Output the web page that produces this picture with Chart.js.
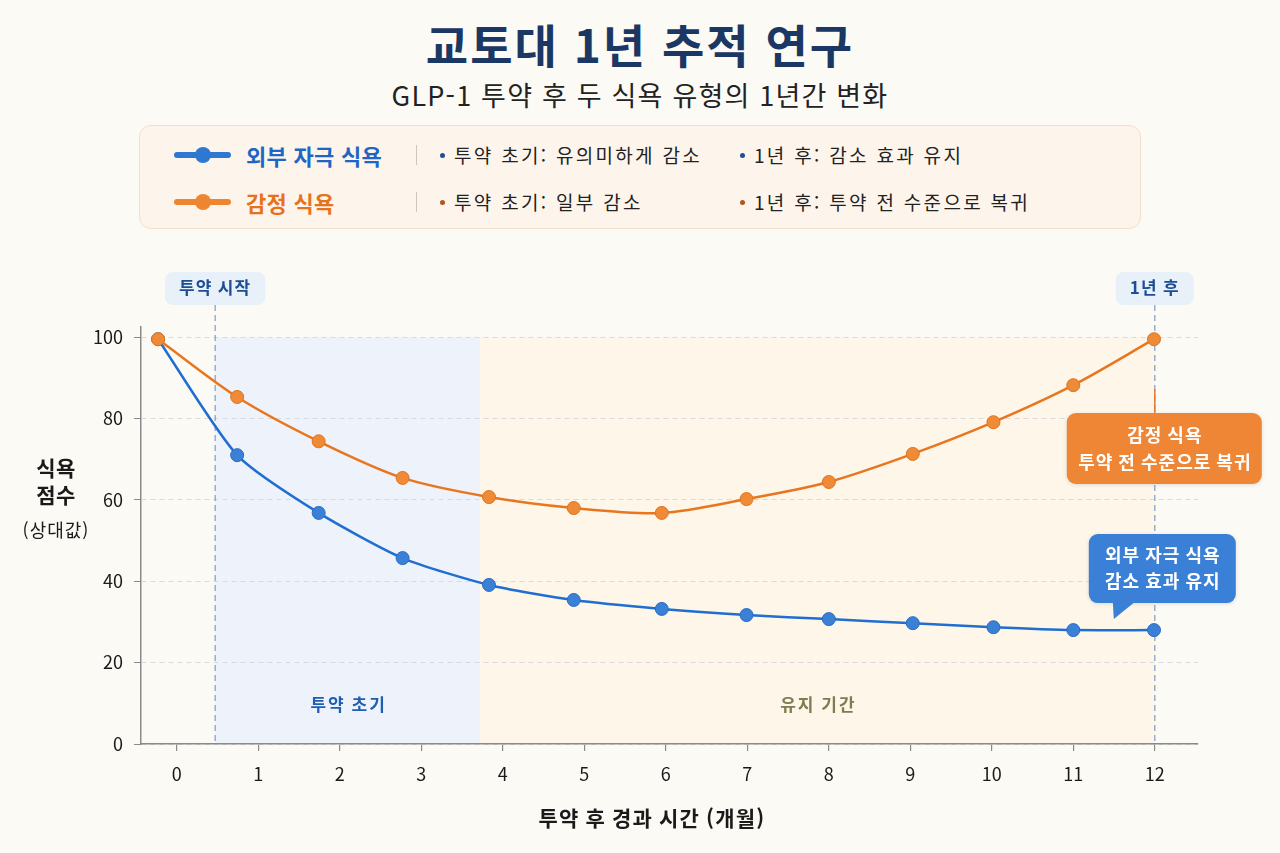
<!DOCTYPE html>
<html lang="ko">
<head>
<meta charset="utf-8">
<script src="https://cdn.jsdelivr.net/npm/chart.js@4.4.1/dist/chart.umd.min.js"></script>
<style>
  html, body { margin: 0; padding: 0; }
  body { width: 1280px; height: 853px; background: #fcfaf5; position: relative; overflow: hidden;
         font-family: "Noto Sans CJK KR", "Noto Sans", sans-serif; color: #222; }
  .title { position: absolute; left: 0; width: 1280px; top: 10px; text-align: center;
           font-size: 46px; font-weight: 700; color: #1b3764; line-height: 66px; letter-spacing: 2px; }
  .subtitle { position: absolute; left: 0; width: 1280px; top: 76px; text-align: center;
              font-size: 27px; color: #222; line-height: 38px; letter-spacing: 1.2px; }
  .legend { position: absolute; left: 139px; top: 125px; width: 1000px; height: 102px;
            background: #fdf5ec; border: 1.5px solid #f2dfcc; border-radius: 12px; }
  .row { position: absolute; left: 0; height: 30px; line-height: 30px; width: 100%; }
  .mark { position: absolute; left: 34px; top: 12px; width: 57px; height: 6px; border-radius: 3px; }
  .mark::after { content: ''; position: absolute; left: 21px; top: -5px; width: 16px; height: 16px; border-radius: 50%; background: inherit; }
  .name { position: absolute; left: 106px; font-size: 22px; font-weight: 700; letter-spacing: 0.3px; }
  .sep { position: absolute; left: 276px; top: 5px; width: 1px; height: 20px; background: #cfc7bd; }
  .note { position: absolute; font-size: 19px; color: #222; letter-spacing: 2.3px; }
  .note::before { content: ''; display: inline-block; width: 5px; height: 5px; border-radius: 50%;
                  background: var(--dot); margin-right: 9px; vertical-align: middle; position: relative; top: -2px; }
  #wrap { position: absolute; left: 0; top: 250px; width: 1280px; height: 603px; }
</style>
</head>
<body>
<div class="title">교토대 1년 추적 연구</div>
<div class="subtitle">GLP-1 투약 후 두 식욕 유형의 1년간 변화</div>
<div class="legend">
  <div class="row" style="top:14px">
    <div class="mark" style="background:#2f78d2"></div>
    <div class="name" style="color:#1f66c4">외부 자극 식욕</div>
    <div class="sep"></div>
    <div class="note" style="left:300px; --dot:#1f4f93">투약 초기: 유의미하게 감소</div>
    <div class="note" style="left:600px; --dot:#1f4f93">1년 후: 감소 효과 유지</div>
  </div>
  <div class="row" style="top:61px">
    <div class="mark" style="background:#ee8530"></div>
    <div class="name" style="color:#e8721c">감정 식욕</div>
    <div class="sep"></div>
    <div class="note" style="left:300px; --dot:#b5541c">투약 초기: 일부 감소</div>
    <div class="note" style="left:600px; --dot:#b5541c">1년 후: 투약 전 수준으로 복귀</div>
  </div>
</div>
<div id="wrap"><canvas id="chart" width="1280" height="603"></canvas></div>

<script>
// x position of each measurement, in months (as placed in the picture)
const pointMonths = [-0.23, 0.74, 1.74, 2.77, 3.83, 4.87, 5.95, 6.99, 8.0, 9.03, 10.02, 11.0, 11.99];
const externalCue = [99.5, 71.0, 56.8, 45.7, 39.1, 35.4, 33.2, 31.7, 30.7, 29.7, 28.7, 28.0, 28.0];
const emotional   = [99.5, 85.3, 74.4, 65.4, 60.7, 58.0, 56.8, 60.2, 64.4, 71.3, 79.1, 88.2, 99.5];

const xTicks = [0, 1, 2, 3, 4, 5, 6, 7, 8, 9, 10, 11, 12];
const yTicks = [0, 20, 40, 60, 80, 100];

const phaseLabels = ['투약 초기', '유지 기간'];
const phaseFrom   = [0.47, 3.72];
const phaseTo     = [3.72, 12];

const markerLabels = ['투약 시작', '1년 후'];
const markerMonths = [0.47, 12];

const FONT = '"Noto Sans CJK KR", "Noto Sans", sans-serif';

function rrect(ctx, x, y, w, h, r, fill) {
  ctx.beginPath();
  ctx.roundRect(x, y, w, h, r);
  ctx.fillStyle = fill;
  ctx.fill();
}

const overlay = {
  id: 'overlay',
  beforeDraw(chart) {
    const { ctx, scales: { x, y } } = chart;
    const fills = ['#eef3fb', '#fdf6e9'];
    const textColors = ['#1f5fb0', '#7d7d50'];
    ctx.save();
    ctx.letterSpacing = '2px';
    phaseLabels.forEach((lab, i) => {
      const x0 = x.getPixelForValue(phaseFrom[i]), x1 = x.getPixelForValue(phaseTo[i]);
      const yt = y.getPixelForValue(100), yb = y.getPixelForValue(0);
      ctx.fillStyle = fills[i];
      ctx.fillRect(x0, yt, x1 - x0, yb - yt);
      ctx.fillStyle = textColors[i];
      ctx.font = '600 17px ' + FONT;
      ctx.textAlign = 'center';
      ctx.textBaseline = 'middle';
      ctx.fillText(lab, (x0 + x1) / 2 + 1, y.getPixelForValue(9.6));
    });
    ctx.restore();
  },
  beforeDatasetsDraw(chart) {
    const { ctx, scales: { x, y } } = chart;
    ctx.save();
    markerMonths.forEach((m, i) => {
      const px = x.getPixelForValue(m);
      ctx.strokeStyle = '#7f9cc6';
      ctx.lineWidth = 1.2;
      ctx.setLineDash([6, 4]);
      ctx.beginPath();
      ctx.moveTo(px, 55);
      ctx.lineTo(px, y.getPixelForValue(0));
      ctx.stroke();
      ctx.setLineDash([]);
      ctx.font = '600 17px ' + FONT;
      ctx.letterSpacing = '1.2px';
      const w = ctx.measureText(markerLabels[i]).width + 28;
      rrect(ctx, px - w / 2, 22, w, 33, 8, '#e8f0fa');
      ctx.fillStyle = '#1d4d93';
      ctx.textAlign = 'center';
      ctx.textBaseline = 'middle';
      ctx.fillText(markerLabels[i], px, 38);
      ctx.letterSpacing = '0px';
    });
    ctx.restore();
  },
  afterDatasetsDraw(chart) {
    const { ctx, scales: { x, y } } = chart;
    const px = x.getPixelForValue(12);
    ctx.save();
    ctx.textAlign = 'center';
    ctx.textBaseline = 'middle';
    ctx.font = '600 18px ' + FONT;
    ctx.letterSpacing = '1px';

    // orange callout
    const oy = y.getPixelForValue(emotional[12]);
    ctx.strokeStyle = '#e8772a';
    ctx.lineWidth = 1.5;
    ctx.beginPath();
    ctx.moveTo(px, oy + 50);
    ctx.lineTo(px, 163);
    ctx.stroke();
    ctx.shadowColor = 'rgba(0,0,0,0.12)';
    ctx.shadowBlur = 4;
    ctx.shadowOffsetY = 1;
    rrect(ctx, px - 88, 163, 195, 71, 9, '#ee8636');
    ctx.shadowColor = 'transparent';
    ctx.fillStyle = '#fff';
    ctx.fillText('감정 식욕', px + 10, 185);
    ctx.fillText('투약 전 수준으로 복귀', px + 10, 212);

    // blue callout
    const by = y.getPixelForValue(externalCue[12]);
    ctx.shadowColor = 'rgba(0,0,0,0.12)';
    ctx.shadowBlur = 4;
    ctx.shadowOffsetY = 1;
    rrect(ctx, px - 66, by - 96, 147, 69, 9, '#3a80d6');
    ctx.shadowColor = 'transparent';
    ctx.beginPath();
    ctx.moveTo(px - 42, by - 28);
    ctx.lineTo(px - 20, by - 28);
    ctx.lineTo(px - 41, by - 11);
    ctx.closePath();
    ctx.fill();
    ctx.fillStyle = '#fff';
    ctx.fillText('외부 자극 식욕', px + 8, by - 75);
    ctx.fillText('감소 효과 유지', px + 8, by - 49);

    // axis titles
    ctx.fillStyle = '#1a1a1a';
    ctx.font = '700 21px ' + FONT;
    ctx.letterSpacing = '1.2px';
    ctx.fillText('투약 후 경과 시간 (개월)', 652, 568);
    ctx.letterSpacing = '0.5px';
    ctx.fillText('식욕', 56, 218);
    ctx.fillText('점수', 56, 245);
    ctx.font = '400 18px ' + FONT;
    ctx.letterSpacing = '1px';
    ctx.fillText('(상대값)', 56, 280);
    ctx.restore();
  }
};

const toXY = vals => vals.map((v, i) => ({ x: pointMonths[i], y: v }));

new Chart(document.getElementById('chart'), {
  type: 'line',
  data: {
    datasets: [
      { label: '감정 식욕', data: toXY(emotional),
        borderColor: '#e8761f', borderWidth: 2.5, tension: 0.3,
        pointRadius: 6.5, pointBackgroundColor: '#ef8a36', pointBorderColor: '#e07522', pointBorderWidth: 1 },
      { label: '외부 자극 식욕', data: toXY(externalCue),
        borderColor: '#1f6ed0', borderWidth: 2.5, tension: 0.22,
        pointRadius: 6.5, pointBackgroundColor: '#3a80d6', pointBorderColor: '#2a6cc4', pointBorderWidth: 1 },
    ]
  },
  options: {
    responsive: false,
    animation: false,
    layout: { padding: { left: 0, right: 82, top: 77, bottom: 0 } },
    plugins: { legend: { display: false }, tooltip: { enabled: false } },
    scales: {
      x: {
        type: 'linear', min: -0.44, max: 12.53,
        afterBuildTicks: s => { s.ticks = xTicks.map(v => ({ value: v })); },
        afterFit: s => { s.height = 109; },
        grid: { drawOnChartArea: false, tickLength: 7, color: '#8a8a8a', lineWidth: 1.2 },
        border: { color: '#8a8a8a', width: 1.5 },
        ticks: { color: '#1a1a1a', font: { size: 18, family: FONT }, padding: 12, maxRotation: 0 }
      },
      y: {
        min: 0, max: 102.5,
        afterBuildTicks: s => { s.ticks = yTicks.map(v => ({ value: v })); },
        afterFit: s => { s.width = 141; },
        grid: { color: '#d9dadc', lineWidth: 1, tickLength: 7, tickColor: '#8a8a8a', tickBorderDash: [] },
        border: { color: '#8a8a8a', width: 1.5, dash: [5, 4] },
        ticks: { color: '#1a1a1a', font: { size: 18, family: FONT }, padding: 11 }
      }
    }
  },
  plugins: [overlay]
});
</script>
</body>
</html>
